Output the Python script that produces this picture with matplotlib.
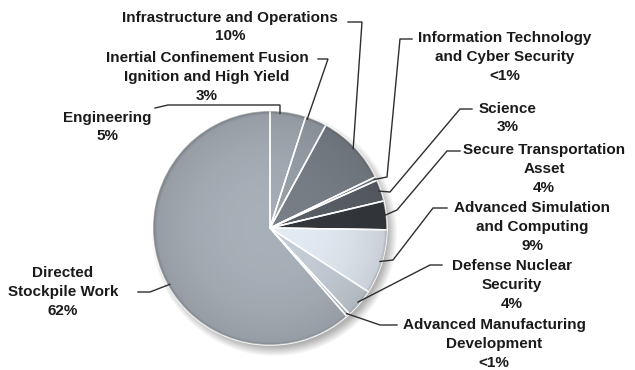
import numpy as np
import matplotlib
matplotlib.use("Agg")
import matplotlib.pyplot as plt
from matplotlib.patches import Circle

# slices, clockwise from the top of the pie
labels = [
    "Engineering\n5%",
    "Inertial Confinement Fusion\nIgnition and High Yield\n3%",
    "Infrastructure and Operations\n10%",
    "Information Technology\nand Cyber Security\n<1%",
    "Science\n3%",
    "Secure Transportation\nAsset\n4%",
    "Advanced Simulation\nand Computing\n9%",
    "Defense Nuclear\nSecurity\n4%",
    "Advanced Manufacturing\nDevelopment\n<1%",
    "Directed\nStockpile Work\n62%",
]
shares = [5, 3, 10, 0.5, 3, 4, 9, 4, 0.5, 62]
colors = ["#a6aeb7", "#99a1aa", "#798088", "#70777f", "#5a6067",
          "#33373c", "#e6eef7", "#c8d1da", "#b8c0c9", "#aab2bb"]

# label layout (pixel coords): text centre, leader elbows, anchor position in wedge
text_xy = [(107, 127), (207, 77), (230, 27), (505, 57), (508, 118),
           (544, 169), (532, 227), (512, 285), (494, 344), (63, 292)]
elbows = [
    [(155, 108), (168, 105), (280, 105)],
    [(318, 59), (328, 59)],
    [(348, 22), (362, 22)],
    [(412, 39), (400, 39), (387, 177)],
    [(472, 109), (460, 109), (390, 192)],
    [(460, 151), (447, 151), (397, 210)],
    [(447, 208), (433, 208), (393, 260)],
    [(442, 265), (430, 265)],
    [(397, 325), (380, 325)],
    [(138, 292), (150, 292)],
]
anchor_frac = [0.28, 0.1, 0.5, 0.5, 0.5, 0.5, 0.5, 0.5, 0.5, 0.46]

cx, cy, R = 270, 228, 117

fig = plt.figure(figsize=(6.35, 3.7), dpi=100)
ax = fig.add_axes([0, 0, 1, 1])
ax.set_xlim(0, 635)
ax.set_ylim(370, 0)
ax.set_aspect("equal")
ax.axis("off")

# soft shadow below/right of the pie
yy, xx = np.mgrid[0:370, 0:635]
d_sh = np.hypot(xx - (cx + 4), yy - (cy + 5))
sh_alpha = 0.3 * np.clip(1 - (d_sh - R + 4) / 10, 0, 1)
sh = np.zeros((370, 635, 4))
sh[..., 3] = sh_alpha
ax.imshow(sh, extent=(0, 635, 370, 0), zorder=0, interpolation="bilinear")

wedges, _ = ax.pie(shares, colors=colors, startangle=-90, counterclock=True,
                   center=(cx, cy), radius=R,
                   wedgeprops=dict(edgecolor="white", linewidth=1.1))
for w in wedges:
    w.set_zorder(2)
ax.set_xlim(0, 635)
ax.set_ylim(370, 0)

# radial shading + dark rim, clipped to the pie
d = np.hypot(xx - cx, yy - cy) / R
shade = 0.02 + 0.14 * d ** 2.5 + 0.2 * np.clip((d - 0.97) / 0.03, 0, 1)
ov = np.zeros((370, 635, 4))
ov[..., :3] = 0.15
ov[..., 3] = np.clip(shade, 0, 0.5)
im = ax.imshow(ov, extent=(0, 635, 370, 0), zorder=3, interpolation="bilinear")
im.set_clip_path(Circle((cx, cy), R, transform=ax.transData))

# white separators redrawn on top of the shading
for w in wedges:
    t = np.deg2rad(w.theta1)
    ax.plot([cx, cx + R * 0.99 * np.cos(t)], [cy, cy + R * 0.99 * np.sin(t)],
            color="white", lw=1.1, zorder=4, alpha=0.9)

for w, lab, txy, el, fr in zip(wedges, labels, text_xy, elbows, anchor_frac):
    th = np.deg2rad(w.theta1 + fr * (w.theta2 - w.theta1))
    ax_pt = (cx + (R - 2) * np.cos(th), cy + (R - 2) * np.sin(th))
    pts = el + [ax_pt]
    ax.plot([p[0] for p in pts], [p[1] for p in pts], color="#2e2e2e", lw=1.0,
            zorder=5, solid_joinstyle="miter")
    ax.text(txy[0], txy[1], lab, ha="center", va="center", ma="center",
            fontsize=11, fontweight="bold", family="Liberation Sans",
            color="#1a1a1a", linespacing=1.45, zorder=6)

fig.savefig("out.png", dpi=100)
